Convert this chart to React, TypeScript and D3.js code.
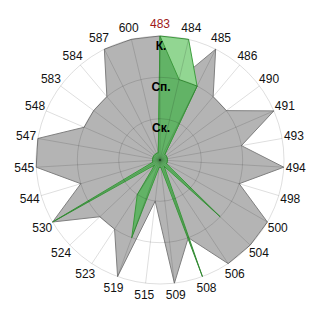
import React from "react";
import * as d3 from "d3";

const categories = ["483","484","485","486","490","491","493","494","498","500","504","506","508","509","515","519","523","524","530","544","545","547","548","583","584","587","600"];
const levelLabels = ["Ск.", "Сп.", "К."];
const levelValues = [1, 2, 3];
const highlighted = "483";

const grayValues = [3,2,3,2,2,3,2,3,2,3,3,3,2,3,1,3,2,2,3,2,3,3,2,2,2,3,3];
const lightValues = [3,3,2,0.18,0.18,0.18,0.18,0.18,0.18,0.18,0.18,0.18,0.18,0.18,0.18,0.18,0.18,0.18,0.18,0.18,0.18,0.18,0.18,0.18,0.18,0.18,0.18];
const darkValues = [3,2,2,0.18,0.18,0.18,0.18,0.18,0.18,0.18,2,0.18,3,0.18,0.18,2,1,0.18,3,0.18,0.18,0.18,0.18,0.18,0.18,0.18,0.18];

export default function App() {
  const W = 320, H = 320, cx = 160, cy = 160, R = 124;
  const n = categories.length;
  const angle = d3.scaleLinear().domain([0, n]).range([0, 2 * Math.PI]);
  const r = d3.scaleLinear().domain([0, 3]).range([0, R]);
  const line = d3.lineRadial<number>()
    .angle((_, i) => angle(i))
    .radius((d) => r(d))
    .curve(d3.curveLinearClosed);
  const font = "'Liberation Sans', Arial, sans-serif";
  const grid = "rgba(0,0,0,0.13)";
  return (
    <svg width={W} height={H} style={{ position: "absolute", left: 0, top: 0, background: "#fff" }}>
      <g transform={`translate(${cx},${cy})`}>
        <path d={line(grayValues) || ""} fill="#b4b4b4" stroke="#808080" strokeWidth={1} />
        <path d={line(lightValues) || ""} fill="#92d692" stroke="#3f9f3f" strokeWidth={1} />
        <path d={line(darkValues) || ""} fill="#62b366" stroke="#3c9a3c" strokeWidth={1} />
        {levelValues.map((v) => (
          <circle key={v} r={r(v)} fill="none" stroke={grid} strokeWidth={1} />
        ))}
        {categories.map((c, i) => {
          const a = angle(i);
          return (
            <line key={c} x1={0} y1={0} x2={Math.sin(a) * R} y2={-Math.cos(a) * R} stroke={grid} strokeWidth={1} />
          );
        })}
        {categories.map((c, i) => {
          const a = angle(i);
          const lr = 136;
          return (
            <text key={c} x={Math.sin(a) * lr} y={-Math.cos(a) * lr} textAnchor="middle" dominantBaseline="central"
              fontFamily={font} fontSize={12} fill={c === highlighted ? "#a01818" : "#111"}>
              {c}
            </text>
          );
        })}
        {levelValues.map((v, i) => (
          <text key={v} x={1} y={-(r(v) - 9.5)} textAnchor="middle" dominantBaseline="central"
            fontFamily={font} fontSize={12} fontWeight="bold" fill="#000">
            {levelLabels[i]}
          </text>
        ))}
      </g>
    </svg>
  );
}
